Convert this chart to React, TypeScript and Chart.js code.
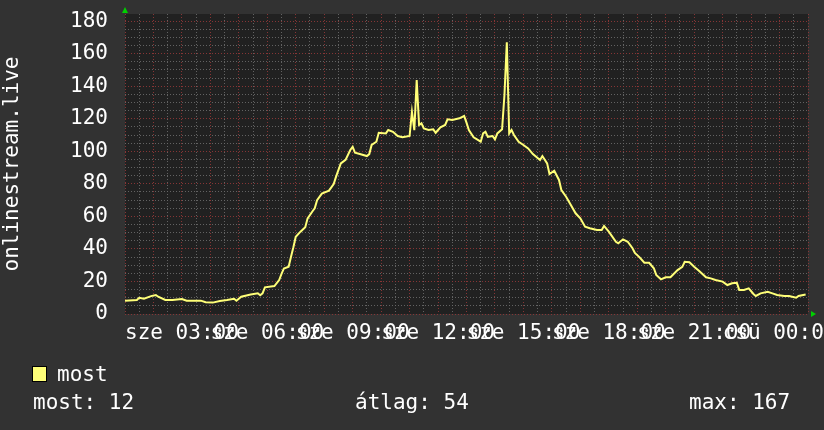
import React, { useEffect, useRef } from 'react';
import { Chart, registerables } from 'chart.js';

Chart.register(...registerables);

// minutes since 01:00 (start of the 24h window)
const minutes = [
  0, 25, 30, 40, 55, 65, 70, 85, 100, 120,
  130, 160, 170, 185, 200, 215, 230, 235, 245, 265,
  280, 285, 290, 295, 315, 325, 330, 335, 345, 350,
  355, 360, 370, 380, 385, 395, 400, 405, 415, 430,
  440, 445, 455, 465, 475, 480, 485, 495, 510, 515,
  520, 530, 535, 550, 555, 565, 575, 585, 600, 605,
  610, 615, 620, 625, 630, 640, 650, 655, 665, 675,
  680, 690, 705, 715, 720, 725, 735, 750, 755, 760,
  765, 775, 780, 785, 795, 800, 805, 810, 815, 820,
  830, 840, 850, 860, 875, 880, 890, 895, 905, 915,
  920, 930, 940, 950, 960, 970, 980, 995, 1005, 1010,
  1020, 1035, 1040, 1050, 1060, 1070, 1075, 1085, 1095, 1105,
  1115, 1120, 1130, 1140, 1150, 1165, 1175, 1180, 1190, 1200,
  1210, 1225, 1235, 1245, 1260, 1270, 1280, 1290, 1295, 1305,
  1315, 1325, 1330, 1340, 1355, 1365, 1375, 1390, 1400, 1415,
  1420, 1435,
];

const values = [
  8.2, 8.6, 10, 9.4, 11, 11.7, 10.6, 8.6, 8.6, 9.2,
  8.2, 8.2, 7.2, 7, 8, 8.6, 9.4, 8.2, 10.6, 12,
  12.7, 11.5, 12.7, 16.4, 17.2, 20.9, 24.6, 28, 29, 35.2,
  41, 47.5, 50.6, 53.3, 58.8, 63, 65, 70, 74, 75.8,
  79.9, 84.4, 92.6, 94.7, 100.8, 102.8, 99.1, 98.3, 97.1, 98.3,
  103.9, 105.9, 111.4, 111, 113.1, 112, 109.4, 108.6, 109.4, 124.3,
  113, 143.8, 116.2, 117.2, 114.1, 113.1, 113.5, 111.4, 114.8, 116.2,
  119.7, 119.2, 120.3, 121.7, 117.6, 113.1, 108.6, 105.9, 111, 112,
  108.9, 109.4, 107.3, 111, 113.5, 134.6, 167, 111, 113.1, 110,
  105.9, 103.9, 101.8, 98.3, 94.7, 97.1, 92.6, 86, 88.1, 82.4,
  76.2, 72.1, 67, 61.9, 58.8, 53.7, 52.7, 51.6, 51.6, 54.1,
  50.6, 44.4, 43.5, 45.9, 44.4, 40.4, 37.5, 34.8, 31.5, 31.5,
  28.1, 24, 21.3, 22.6, 22.6, 27, 29, 32.1, 31.8, 29,
  26.6, 22.6, 21.9, 20.9, 19.9, 17.8, 18.9, 19.2, 14.8, 14.8,
  15.8, 12.3, 11.1, 12.7, 13.7, 12.7, 11.7, 11.1, 11.1, 10,
  11.1, 12,
];

const startHour = 1;
const windowMinutes = 1440;
const dayNames = ['sze', 'csü'];
const seriesName = 'most';
const statLabels = ['most: 12', 'átlag: 54', 'max: 167'];
const yTitle = 'onlinestream.live';
const yMax = 184.4;

const FONT = '"DejaVu Sans Mono", monospace';
const LINE_COLOR = '#ffff78';
const MAJOR = 'rgba(140,55,55,0.95)';
const MINOR = 'rgba(105,105,105,0.9)';

const pad2 = (n: number) => (n < 10 ? '0' + n : String(n));

const xLabel = (v: number) => {
  const clock = startHour * 60 + v;
  if (clock % 180 !== 0) return '';
  const h = Math.round(clock / 60) % 24;
  const day = clock >= 1440 ? dayNames[1] : dayNames[0];
  return `${day} ${pad2(h)}:00`;
};

const decoPlugin = {
  id: 'deco',
  beforeDraw(chart: any) {
    const { ctx, chartArea: a } = chart;
    ctx.save();
    ctx.fillStyle = '#323232';
    ctx.fillRect(0, 0, chart.width, chart.height);
    ctx.fillStyle = '#212121';
    ctx.fillRect(a.left, a.top, a.right - a.left, a.bottom - a.top);
    ctx.restore();
  },
  afterDraw(chart: any) {
    const { ctx, chartArea: a } = chart;
    ctx.save();
    // green axis arrows
    ctx.fillStyle = '#00d000';
    ctx.beginPath();
    ctx.moveTo(a.left, a.top - 7);
    ctx.lineTo(a.left - 3, a.top - 1);
    ctx.lineTo(a.left + 3, a.top - 1);
    ctx.closePath();
    ctx.fill();
    ctx.beginPath();
    ctx.moveTo(a.right + 8, a.bottom);
    ctx.lineTo(a.right + 3, a.bottom - 3);
    ctx.lineTo(a.right + 3, a.bottom + 3);
    ctx.closePath();
    ctx.fill();

    // legend
    ctx.fillStyle = LINE_COLOR;
    ctx.fillRect(33, 367, 13, 14);
    ctx.strokeStyle = '#000';
    ctx.lineWidth = 1;
    ctx.strokeRect(32.5, 366.5, 14, 15);
    ctx.fillStyle = '#ffffff';
    ctx.font = `21px ${FONT}`;
    ctx.textBaseline = 'alphabetic';
    ctx.textAlign = 'left';
    ctx.fillText(seriesName, 57, 381);
    const xs = [33, 355, 689];
    statLabels.forEach((t, i) => ctx.fillText(t, xs[i], 409));
    ctx.restore();
  },
};

export default function App() {
  const ref = useRef<HTMLCanvasElement | null>(null);

  useEffect(() => {
    document.body.style.margin = '0';
    document.body.style.background = '#323232';
    const canvas = ref.current;
    if (!canvas) return;
    const chart = new Chart(canvas, {
      type: 'line',
      data: {
        datasets: [
          {
            label: seriesName,
            data: minutes.map((m, i) => ({ x: m, y: values[i] })),
            borderColor: LINE_COLOR,
            backgroundColor: LINE_COLOR,
            borderWidth: 2,
            pointRadius: 0,
            tension: 0,
            fill: false,
          },
        ],
      },
      options: {
        responsive: false,
        animation: false,
        devicePixelRatio: 1,
        layout: { padding: { top: 14, right: 16, left: 0, bottom: 0 } },
        plugins: {
          legend: { display: false },
          tooltip: { enabled: false },
        },
        scales: {
          x: {
            type: 'linear',
            min: 0,
            max: windowMinutes,
            afterFit(s: any) {
              s.height = 116;
              s.paddingLeft = 0;
              s.paddingRight = 0;
              s.paddingTop = 0;
              s.paddingBottom = 0;
            },
            ticks: {
              stepSize: 30,
              autoSkip: false,
              maxRotation: 0,
              minRotation: 0,
              maxTicksLimit: 200,
              includeBounds: false,
              color: '#ffffff',
              font: { family: FONT, size: 21 },
              padding: 7,
              callback: (v: any) => xLabel(Number(v)),
            },
            grid: {
              color: (c: any) => (c.tick && ((startHour * 60 + c.tick.value) % 60 === 0) ? MAJOR : MINOR),
              lineWidth: 1,
              drawTicks: false,
            },
            border: { display: false, dash: [1, 2] },
          },
          y: {
            type: 'linear',
            min: 0,
            max: yMax,
            afterFit(s: any) {
              s.width = 125;
              s.paddingTop = 0;
              s.paddingBottom = 0;
              s.paddingLeft = 0;
              s.paddingRight = 0;
            },
            ticks: {
              stepSize: 5,
              autoSkip: false,
              maxTicksLimit: 200,
              includeBounds: false,
              color: '#ffffff',
              font: { family: FONT, size: 21 },
              padding: 17,
              callback: (v: any) => (Number(v) % 20 === 0 ? String(v) : ''),
            },
            grid: {
              color: (c: any) => (c.tick && c.tick.value % 20 === 0 ? MAJOR : MINOR),
              lineWidth: 1,
              drawTicks: false,
            },
            border: { display: false, dash: [1, 2] },
            title: {
              display: true,
              text: yTitle,
              color: '#ffffff',
              font: { family: FONT, size: 21, lineHeight: 1 },
              padding: { top: 2, bottom: 0 },
            },
          },
        },
      },
      plugins: [decoPlugin],
    } as any);
    return () => chart.destroy();
  }, []);

  return <canvas ref={ref} width={824} height={430} style={{ display: 'block', width: 824, height: 430 }} />;
}
